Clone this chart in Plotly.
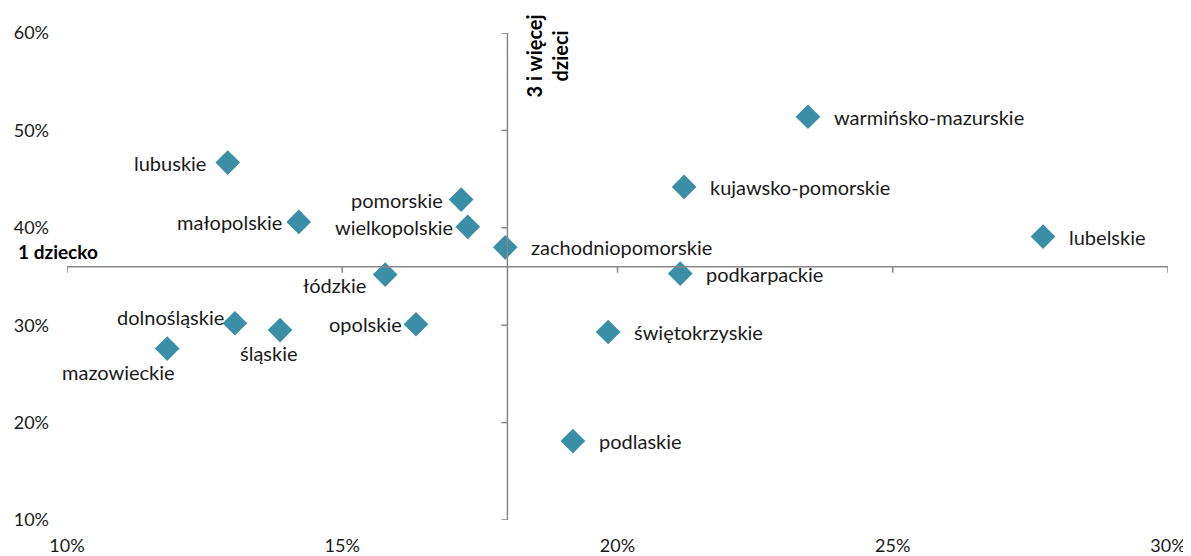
import plotly.graph_objects as go

# share of families with 1 child (x) vs 3+ children (y), by voivodeship
regions = ["warmińsko-mazurskie", "lubuskie", "kujawsko-pomorskie", "pomorskie",
           "małopolskie", "wielkopolskie", "lubelskie", "zachodniopomorskie",
           "łódzkie", "podkarpackie", "dolnośląskie", "śląskie", "opolskie",
           "świętokrzyskie", "mazowieckie", "podlaskie"]
one_child = [23.46, 12.92, 21.21, 17.16, 14.21, 17.28, 27.73, 17.96,
             15.78, 21.14, 13.05, 13.87, 16.34, 19.83, 11.82, 19.19]
three_plus = [51.4, 46.7, 44.2, 42.9, 40.6, 40.1, 39.1, 38.0,
              35.2, 35.3, 30.2, 29.5, 30.1, 29.3, 27.6, 18.1]

x_ticks = [10, 15, 20, 25, 30]
y_ticks = [10, 20, 30, 40, 50, 60]
x_cross = 18   # where the vertical axis crosses
y_cross = 36   # where the horizontal axis crosses

# label placement: (xanchor, xshift, yshift)
label_pos = {
    "warmińsko-mazurskie": ("left", 24, 0),
    "lubuskie": ("right", -20, 0),
    "kujawsko-pomorskie": ("left", 24, 0),
    "pomorskie": ("right", -16, 0),
    "małopolskie": ("right", -15, 0),
    "wielkopolskie": ("right", -13, 0),
    "lubelskie": ("left", 24, 0),
    "zachodniopomorskie": ("left", 24, 0),
    "łódzkie": ("right", -17, -10),
    "podkarpackie": ("left", 24, 0),
    "dolnośląskie": ("right", -9, 6),
    "śląskie": ("center", -11, -23),
    "opolskie": ("right", -12, 0),
    "świętokrzyskie": ("left", 24, 0),
    "mazowieckie": ("right", 10, -23),
    "podlaskie": ("left", 24, 0),
}

FONT = "Lato"
AXIS_COLOR = "#878787"

fig = go.Figure()
fig.add_trace(go.Scatter(
    x=one_child, y=three_plus, mode="markers",
    marker=dict(symbol="diamond", size=19, color="#3A8FA6",
                line=dict(width=0)),
    hoverinfo="text", text=regions, showlegend=False))

for name, xv, yv in zip(regions, one_child, three_plus):
    anchor, dx, dy = label_pos[name]
    fig.add_annotation(x=xv, y=yv, text=name, showarrow=False,
                       xanchor=anchor, yanchor="middle",
                       xshift=dx, yshift=dy,
                       font=dict(family=FONT, size=20, color="#1a1a1a"))

# crossing axes; the edge axes only carry the tick labels
fig.add_shape(type="line", x0=x_ticks[0], x1=x_ticks[-1], y0=y_cross, y1=y_cross,
              line=dict(color=AXIS_COLOR, width=1.5))
fig.add_shape(type="line", x0=x_cross, x1=x_cross, y0=y_ticks[0], y1=y_ticks[-1],
              line=dict(color=AXIS_COLOR, width=1.5))
for t in x_ticks:
    fig.add_shape(type="line", xref="x", yref="y", x0=t, x1=t,
                  ysizemode="pixel", yanchor=y_cross, y0=0, y1=-6,
                  line=dict(color=AXIS_COLOR, width=1.5))
for t in y_ticks:
    fig.add_shape(type="line", xref="x", yref="y", y0=t, y1=t,
                  xsizemode="pixel", xanchor=x_cross, x0=0, x1=-6,
                  line=dict(color=AXIS_COLOR, width=1.5))

fig.add_annotation(x=x_ticks[0], y=y_cross, text="<b>1 dziecko</b>", showarrow=False,
                   xanchor="right", yanchor="bottom", xshift=33, yshift=2,
                   font=dict(family=FONT, size=19, color="#000000"))
fig.add_annotation(x=x_cross, y=y_ticks[-1], text="<b>3 i więcej<br>dzieci</b>",
                   showarrow=False, textangle=-90, xanchor="left", yanchor="middle",
                   xshift=13, yshift=-23,
                   font=dict(family=FONT, size=20, color="#000000"))

# page body has an 8px margin, so the figure is 8px smaller each way
fig.update_layout(
    width=1183, height=548, autosize=False,
    plot_bgcolor="white", paper_bgcolor="white",
    margin=dict(l=59, r=23, t=25, b=36),
    font=dict(family=FONT, size=18, color="#1a1a1a"),
    xaxis=dict(range=[x_ticks[0], x_ticks[-1]], tickvals=x_ticks,
               ticktext=[f"{v}%" for v in x_ticks], showgrid=False,
               zeroline=False, showline=False, ticks="", automargin=False,
               ticklabelstandoff=13),
    yaxis=dict(range=[y_ticks[0], y_ticks[-1]], tickvals=y_ticks,
               ticktext=[f"{v}%" for v in y_ticks], showgrid=False,
               zeroline=False, showline=False, ticks="", automargin=False,
               ticklabelstandoff=17),
)

fig.write_html("out.html")
